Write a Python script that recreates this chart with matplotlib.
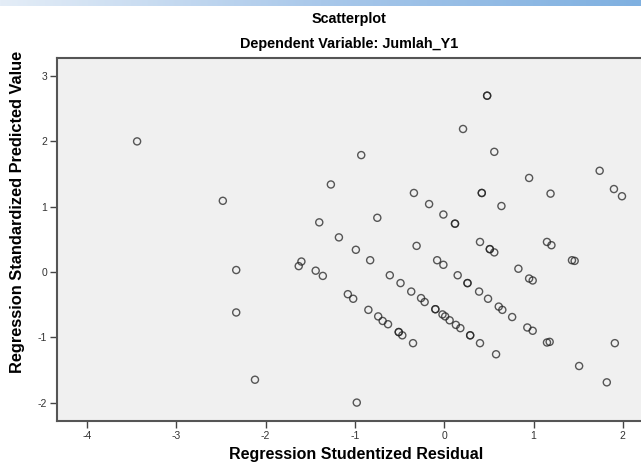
import numpy as np
import matplotlib
matplotlib.use("Agg")
import matplotlib.pyplot as plt
from matplotlib.colors import LinearSegmentedColormap

# Data (Regression Studentized Residual, Regression Standardized Predicted Value)
resid = [-3.44, -2.48, -2.33, -2.33, -2.12, -1.63, -1.60, -1.44, -1.36, -1.27,
         -1.40, -1.18, -0.99, -0.93, -0.83, -0.75, -0.34, -0.31, -0.17, -0.01,
         0.12, 0.12, 0.21, 0.48, 0.48, 0.56, 0.42, 0.42, 0.64, 0.95,
         1.19, 1.74, 1.90, 1.99, 0.40, 0.51, 0.51, 0.56, -0.08, -0.01,
         0.83, 1.15, 1.20, 1.43, 1.46, 0.95, 0.99, 0.15, 0.26, 0.26,
         0.39, 0.49, 0.61, 0.65, 0.76, 0.93, 0.99, 1.15, 1.18, 1.91,
         1.51, 1.82, -0.61, -0.49, -0.37, -0.26, -0.22, -0.10, -0.10, -0.02,
         0.01, 0.06, 0.13, 0.18, 0.29, 0.29, 0.40, 0.58, -1.08, -1.02,
         -0.85, -0.74, -0.69, -0.63, -0.51, -0.51, -0.47, -0.35, -0.98]
pred = [2.00, 1.09, 0.03, -0.62, -1.65, 0.09, 0.16, 0.02, -0.06, 1.34,
        0.76, 0.53, 0.34, 1.79, 0.18, 0.83, 1.21, 0.40, 1.04, 0.88,
        0.74, 0.74, 2.19, 2.70, 2.70, 1.84, 1.21, 1.21, 1.01, 1.44,
        1.20, 1.55, 1.27, 1.16, 0.46, 0.35, 0.35, 0.30, 0.18, 0.11,
        0.05, 0.46, 0.41, 0.18, 0.17, -0.10, -0.13, -0.05, -0.17, -0.17,
        -0.30, -0.41, -0.53, -0.58, -0.69, -0.85, -0.90, -1.08, -1.07, -1.09,
        -1.44, -1.69, -0.05, -0.17, -0.30, -0.40, -0.46, -0.57, -0.57, -0.65,
        -0.68, -0.74, -0.81, -0.86, -0.97, -0.97, -1.09, -1.26, -0.34, -0.41,
        -0.58, -0.68, -0.75, -0.80, -0.92, -0.92, -0.97, -1.09, -2.00]

x_ticks = [-4, -3, -2, -1, 0, 1, 2]
y_ticks = [-2, -1, 0, 1, 2, 3]

title1 = "Scatterplot"
title2 = "Dependent Variable: Jumlah_Y1"
xlabel = "Regression Studentized Residual"
ylabel = "Regression Standardized Predicted Value"

plt.rcParams['font.family'] = ['Liberation Sans', 'DejaVu Sans']

W, H = 641, 468
fig = plt.figure(figsize=(W / 100, H / 100), dpi=100)
fig.patch.set_facecolor('white')

# top gradient bar
bar = fig.add_axes([0, 1 - 6 / H, 1, 6 / H])
cmap = LinearSegmentedColormap.from_list('g', ['#e4edf7', '#a9c8ea', '#7fb0e0'])
bar.imshow(np.linspace(0, 1, 256)[None, :], aspect='auto', cmap=cmap, extent=[0, 1, 0, 1])
bar.axis('off')

left, right, top, bottom = 57, 641, 58, 421
ax = fig.add_axes([left / W, 1 - bottom / H, (right - left) / W, (bottom - top) / H])
ax.set_facecolor('#f0f0f0')
ax.scatter(resid, pred, s=26, facecolors='none', edgecolors='#222222',
           linewidths=1.0, alpha=0.75, zorder=3)

ax.set_xlim(-4.337, 2.203)
ax.set_ylim(-2.282, 3.277)
ax.set_xticks(x_ticks)
ax.set_yticks(y_ticks)
ax.set_xticklabels([str(t) for t in x_ticks])
ax.set_yticklabels([str(t) for t in y_ticks])
ax.tick_params(direction='out', length=5, width=1, color='#444444',
               labelsize=7.5, labelcolor='#333333', pad=2)
for s in ['left', 'bottom', 'top']:
    ax.spines[s].set_color('#555555')
    ax.spines[s].set_linewidth(1.5)
ax.spines['right'].set_visible(False)

# axis titles placed as figure texts
fig.text(356 / W, 1 - 455 / H, xlabel, ha='center', va='center',
         fontsize=11.5, fontweight='bold')
fig.text(18 / W, 1 - 212 / H, ylabel, ha='center', va='center', rotation=90,
         fontsize=11.8, fontweight='bold')

cx = 0.5 * (left + right) / W
fig.text(cx, 1 - 19 / H, title1, ha='center', va='center',
         fontsize=10.4, fontweight='bold')
fig.text(cx, 1 - 44 / H, title2, ha='center', va='center',
         fontsize=10.4, fontweight='bold')

fig.savefig('out.png', dpi=100)
